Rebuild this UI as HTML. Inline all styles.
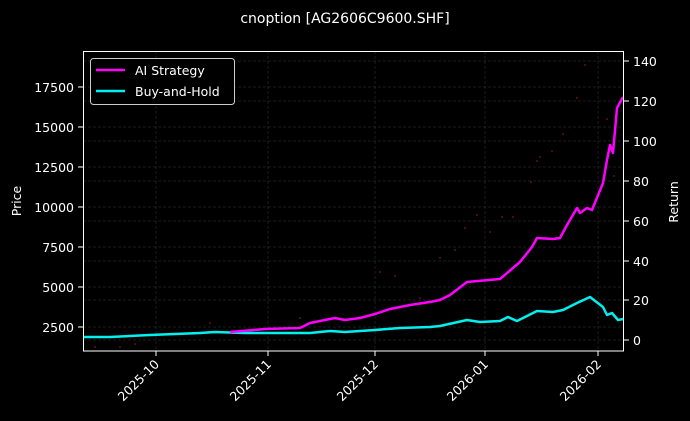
<!DOCTYPE html><html><head><style>body{margin:0;background:#000}svg{display:block}text{font-family:"DejaVu Sans","Liberation Sans",sans-serif;fill:#fff}</style></head><body>
<svg width="690" height="421" viewBox="0 0 690 421">
<rect width="690" height="421" fill="#000"/>
<text x="345" y="23" font-size="14" text-anchor="middle">cnoption [AG2606C9600.SHF]</text>
<g stroke="#3a3a3a" stroke-width="0.5" stroke-dasharray="3,2">
<line x1="156" y1="51" x2="156" y2="351"/><line x1="268" y1="51" x2="268" y2="351"/><line x1="375" y1="51" x2="375" y2="351"/><line x1="485" y1="51" x2="485" y2="351"/><line x1="598" y1="51" x2="598" y2="351"/>
<line x1="83" y1="87" x2="624" y2="87"/><line x1="83" y1="127" x2="624" y2="127"/><line x1="83" y1="167" x2="624" y2="167"/><line x1="83" y1="207" x2="624" y2="207"/><line x1="83" y1="247" x2="624" y2="247"/><line x1="83" y1="287" x2="624" y2="287"/><line x1="83" y1="327" x2="624" y2="327"/>
<line x1="83" y1="61" x2="624" y2="61"/><line x1="83" y1="101" x2="624" y2="101"/><line x1="83" y1="141" x2="624" y2="141"/><line x1="83" y1="181" x2="624" y2="181"/><line x1="83" y1="221" x2="624" y2="221"/><line x1="83" y1="261" x2="624" y2="261"/><line x1="83" y1="300" x2="624" y2="300"/><line x1="83" y1="340" x2="624" y2="340"/>
</g>
<g fill="#a01c1c" opacity="0.8">
<circle cx="95" cy="347" r="0.9"/><circle cx="120" cy="347" r="0.9"/><circle cx="135" cy="344" r="0.9"/><circle cx="210" cy="323" r="0.9"/><circle cx="300" cy="318" r="0.9"/><circle cx="380" cy="272" r="0.9"/><circle cx="395" cy="276" r="0.9"/><circle cx="420" cy="298" r="0.9"/><circle cx="440" cy="258" r="0.9"/><circle cx="455" cy="250" r="0.9"/><circle cx="465" cy="228" r="0.9"/><circle cx="477" cy="215" r="0.9"/><circle cx="490" cy="232" r="0.9"/><circle cx="502" cy="217" r="0.9"/><circle cx="513" cy="217" r="0.9"/><circle cx="531" cy="182" r="0.9"/><circle cx="537" cy="161" r="0.9"/><circle cx="540" cy="157" r="0.9"/><circle cx="552" cy="151" r="0.9"/><circle cx="563" cy="134" r="0.9"/><circle cx="577" cy="98" r="0.9"/><circle cx="585" cy="65" r="0.9"/><circle cx="607" cy="119" r="0.9"/><circle cx="614" cy="176" r="0.9"/>
</g>
<polyline fill="none" stroke="#00f0f0" stroke-width="2.5" stroke-linejoin="round" points="83,337 110,337 150,335 200,333 215,332 245,333 270,333 310,333 330,331 345,332 375,330 400,328 430,327 440,326 467,320 480,322 500,321 508,317 517,321 537,311 553,312 563,310 577,303 590,297 603,307 607,315 612,313 618,320 623,319"/>
<polyline fill="none" stroke="#ff00ff" stroke-width="2.5" stroke-linejoin="round" points="230,332 265,329 300,328 310,323 335,318 345,320 360,318 375,314 390,309 410,305 430,302 440,300 450,295 467,282 500,279 520,262 532,247 537,238 553,239 560,238 567,225 577,208 580,213 587,208 592,210 603,183 607,160 610,145 613,153 617,108 623,97"/>
<rect x="83.5" y="51.5" width="540" height="299.5" fill="none" stroke="#fff" stroke-width="1"/>
<g stroke="#fff" stroke-width="1">
<line x1="78" y1="87" x2="83" y2="87"/><line x1="78" y1="127" x2="83" y2="127"/><line x1="78" y1="167" x2="83" y2="167"/><line x1="78" y1="207" x2="83" y2="207"/><line x1="78" y1="247" x2="83" y2="247"/><line x1="78" y1="287" x2="83" y2="287"/><line x1="78" y1="327" x2="83" y2="327"/>
<line x1="624" y1="61" x2="629" y2="61"/><line x1="624" y1="101" x2="629" y2="101"/><line x1="624" y1="141" x2="629" y2="141"/><line x1="624" y1="181" x2="629" y2="181"/><line x1="624" y1="221" x2="629" y2="221"/><line x1="624" y1="261" x2="629" y2="261"/><line x1="624" y1="300" x2="629" y2="300"/><line x1="624" y1="340" x2="629" y2="340"/>
<line x1="156" y1="351" x2="156" y2="356"/><line x1="268" y1="351" x2="268" y2="356"/><line x1="375" y1="351" x2="375" y2="356"/><line x1="485" y1="351" x2="485" y2="356"/><line x1="598" y1="351" x2="598" y2="356"/>
</g>
<g font-size="12.5" text-anchor="end">
<text x="74" y="92">17500</text><text x="74" y="132">15000</text><text x="74" y="172">12500</text><text x="74" y="212">10000</text><text x="74" y="252">7500</text><text x="74" y="292">5000</text><text x="74" y="332">2500</text>
</g>
<g font-size="12.5">
<text x="633" y="66">140</text><text x="633" y="106">120</text><text x="633" y="146">100</text><text x="633" y="186">80</text><text x="633" y="226">60</text><text x="633" y="266">40</text><text x="633" y="305">20</text><text x="633" y="345">0</text>
</g>
<g font-size="12.5" text-anchor="end">
<text transform="translate(160,365) rotate(-45)">2025-10</text><text transform="translate(272,365) rotate(-45)">2025-11</text><text transform="translate(379,365) rotate(-45)">2025-12</text><text transform="translate(489,365) rotate(-45)">2026-01</text><text transform="translate(602,365) rotate(-45)">2026-02</text>
</g>
<text transform="translate(21,201) rotate(-90)" font-size="12.5" text-anchor="middle">Price</text>
<text transform="translate(678,202) rotate(-90)" font-size="12.5" text-anchor="middle">Return</text>
<rect x="90.5" y="58.5" width="144" height="46" rx="3" fill="#000" stroke="#ccc" stroke-width="1"/>
<line x1="96" y1="70" x2="125" y2="70" stroke="#ff00ff" stroke-width="2.5"/>
<line x1="96" y1="91" x2="125" y2="91" stroke="#00f0f0" stroke-width="2.5"/>
<text x="135" y="75" font-size="12.5">AI Strategy</text>
<text x="135" y="96" font-size="12.5">Buy-and-Hold</text>
</svg></body></html>
